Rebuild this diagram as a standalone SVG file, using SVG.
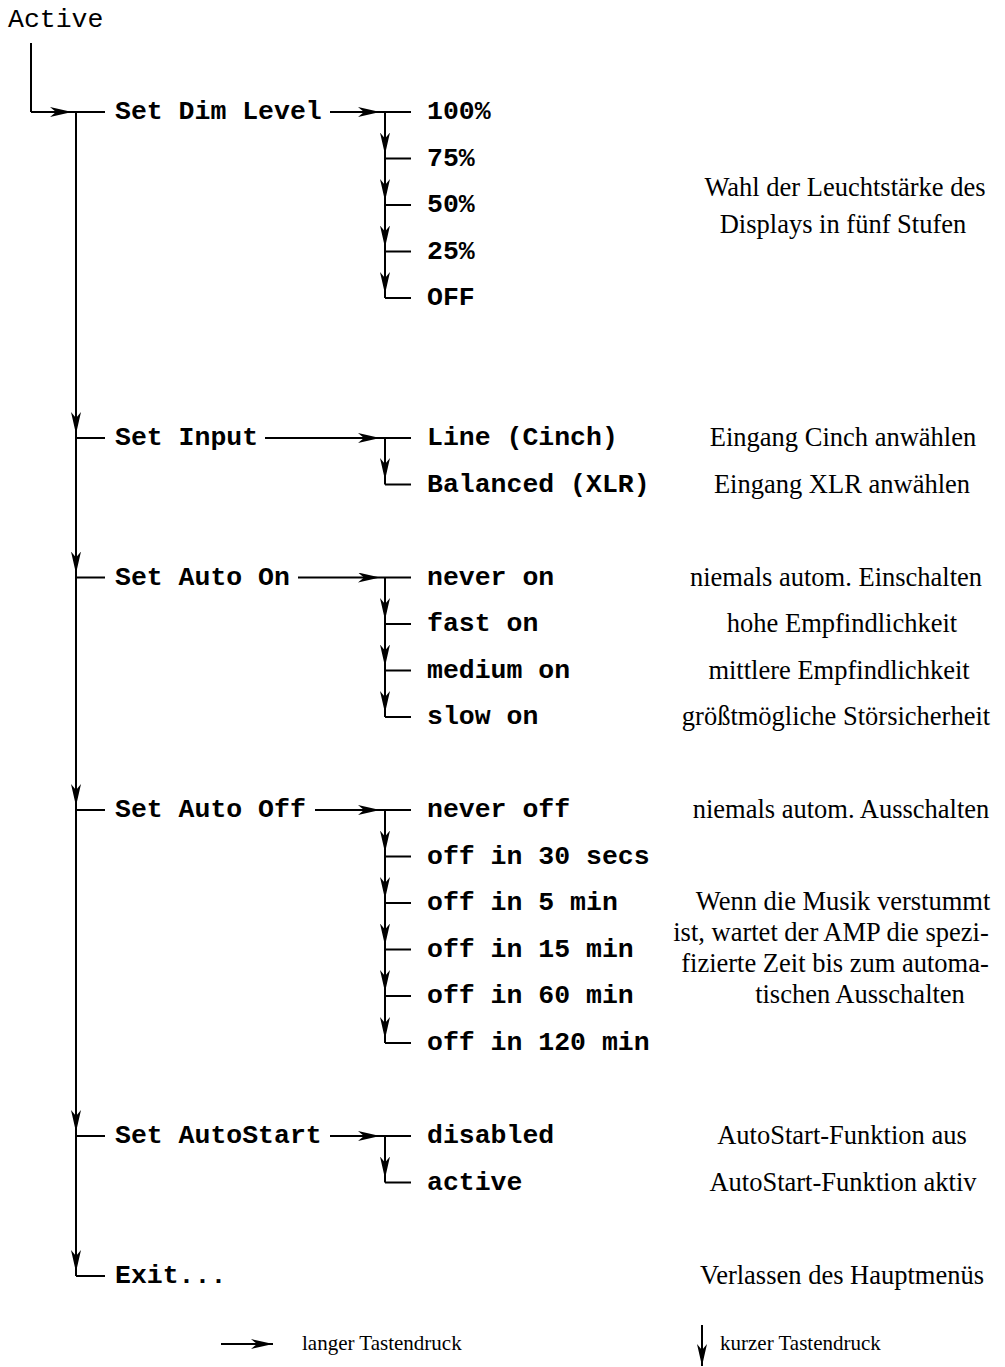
<svg xmlns="http://www.w3.org/2000/svg" width="1005" height="1367" viewBox="0 0 1005 1367">
<defs>
<marker id="ah" viewBox="0 0 22 10" refX="22" refY="5" markerWidth="22" markerHeight="10" markerUnits="userSpaceOnUse" orient="auto"><path d="M0,0 L22,5 L0,10 L6,5 Z" fill="#000"/></marker>
</defs>
<style>
.ln{fill:none;stroke:#000;stroke-width:2}
.mm{marker-mid:url(#ah)}
.me{marker-end:url(#ah)}
.mono{font-family:"Liberation Mono","Courier New",monospace;font-size:26.5px;font-weight:bold;fill:#000}
.act{font-family:"Liberation Mono","Courier New",monospace;font-size:26.5px;fill:#000}
.ser{font-family:"Liberation Serif","Times New Roman",serif;font-size:26.5px;fill:#000;text-anchor:middle}
.leg{font-family:"Liberation Serif","Times New Roman",serif;font-size:21px;fill:#000}
</style>
<rect width="1005" height="1367" fill="#fff"/>
<g id="connectors">
<path class="ln" d="M31,43 V112"/>
<path class="ln mm" d="M31,112 H72 H105"/>
<path class="ln mm" d="M76,112 V434 V573.5 V806 V1132 V1272 V1276"/>
<path class="ln" d="M76,438 H105 M76,577.5 H105 M76,810 H105 M76,1136 H105 M76,1276 H105"/>
<path class="ln mm" d="M330,112 H380 H411"/>
<path class="ln mm" d="M385,112 V154.5 V201 V247.5 V294 V298"/>
<path class="ln" d="M385,158.5 H411 M385,205 H411 M385,251.5 H411 M385,298 H411"/>
<path class="ln mm" d="M265,438 H380 H411"/>
<path class="ln mm" d="M385,438 V480 V484.5"/>
<path class="ln" d="M385,484.5 H411"/>
<path class="ln mm" d="M298,577.5 H380 H411"/>
<path class="ln mm" d="M385,577.5 V620 V666.5 V713 V717"/>
<path class="ln" d="M385,624 H411 M385,670.5 H411 M385,717 H411"/>
<path class="ln mm" d="M315,810 H380 H411"/>
<path class="ln mm" d="M385,810 V852.5 V899 V945.5 V992 V1039 V1043"/>
<path class="ln" d="M385,856.5 H411 M385,903 H411 M385,949.5 H411 M385,996 H411 M385,1043 H411"/>
<path class="ln mm" d="M330,1136 H380 H411"/>
<path class="ln mm" d="M385,1136 V1178.5 V1182.5"/>
<path class="ln" d="M385,1182.5 H411"/>
<path class="ln me" d="M221,1344 H273"/>
<path class="ln me" d="M702,1325 V1366"/>
</g>
<g id="active"><text class="act" x="8" y="27">Active</text></g>
<g id="set-dim-level"><text class="mono" x="115" y="119">Set Dim Level</text></g>
<g id="dim-100"><text class="mono" x="427" y="119">100%</text></g>
<g id="dim-75"><text class="mono" x="427" y="165.5">75%</text></g>
<g id="dim-50"><text class="mono" x="427" y="212">50%</text></g>
<g id="dim-25"><text class="mono" x="427" y="258.5">25%</text></g>
<g id="dim-off"><text class="mono" x="427" y="305">OFF</text></g>
<g id="desc-dim"><text class="ser" x="845" y="196">Wahl der Leuchtstärke des</text><text class="ser" x="843" y="233">Displays in fünf Stufen</text></g>
<g id="set-input"><text class="mono" x="115" y="445">Set Input</text></g>
<g id="input-line"><text class="mono" x="427" y="445">Line (Cinch)</text></g>
<g id="input-balanced"><text class="mono" x="427" y="491.5">Balanced (XLR)</text></g>
<g id="desc-input"><text class="ser" x="843" y="446">Eingang Cinch anwählen</text><text class="ser" x="842" y="492.5">Eingang XLR anwählen</text></g>
<g id="set-auto-on"><text class="mono" x="115" y="584.5">Set Auto On</text></g>
<g id="on-never"><text class="mono" x="427" y="584.5">never on</text></g>
<g id="on-fast"><text class="mono" x="427" y="631">fast on</text></g>
<g id="on-medium"><text class="mono" x="427" y="677.5">medium on</text></g>
<g id="on-slow"><text class="mono" x="427" y="724">slow on</text></g>
<g id="desc-on"><text class="ser" x="836" y="585.5">niemals autom. Einschalten</text><text class="ser" x="842" y="632">hohe Empfindlichkeit</text><text class="ser" x="839" y="678.5">mittlere Empfindlichkeit</text><text class="ser" x="836" y="725">größtmögliche Störsicherheit</text></g>
<g id="set-auto-off"><text class="mono" x="115" y="817">Set Auto Off</text></g>
<g id="off-never"><text class="mono" x="427" y="817">never off</text></g>
<g id="off-30s"><text class="mono" x="427" y="863.5">off in 30 secs</text></g>
<g id="off-5"><text class="mono" x="427" y="910">off in 5 min</text></g>
<g id="off-15"><text class="mono" x="427" y="956.5">off in 15 min</text></g>
<g id="off-60"><text class="mono" x="427" y="1003">off in 60 min</text></g>
<g id="off-120"><text class="mono" x="427" y="1050">off in 120 min</text></g>
<g id="desc-off"><text class="ser" x="841" y="818">niemals autom. Ausschalten</text><text class="ser" x="843" y="910">Wenn die Musik verstummt</text><text class="ser" x="831" y="941">ist, wartet der AMP die spezi-</text><text class="ser" x="835" y="972">fizierte Zeit bis zum automa-</text><text class="ser" x="860" y="1003">tischen Ausschalten</text></g>
<g id="set-autostart"><text class="mono" x="115" y="1143">Set AutoStart</text></g>
<g id="as-disabled"><text class="mono" x="427" y="1143">disabled</text></g>
<g id="as-active"><text class="mono" x="427" y="1189.5">active</text></g>
<g id="desc-as"><text class="ser" x="842" y="1144">AutoStart-Funktion aus</text><text class="ser" x="843" y="1190.5">AutoStart-Funktion aktiv</text></g>
<g id="exit"><text class="mono" x="115" y="1283">Exit...</text></g>
<g id="desc-exit"><text class="ser" x="842" y="1284">Verlassen des Hauptmenüs</text></g>
<g id="legend"><text class="leg" x="302" y="1350">langer Tastendruck</text><text class="leg" x="720" y="1350">kurzer Tastendruck</text></g>
</svg>
